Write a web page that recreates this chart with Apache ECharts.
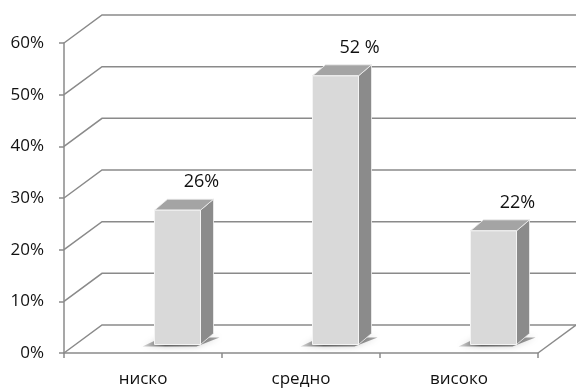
<!DOCTYPE html>
<html>
<head>
<meta charset="utf-8">
<script src="https://cdn.jsdelivr.net/npm/echarts@6/dist/echarts.min.js"></script>
<style>
  html, body { margin: 0; padding: 0; background: #ffffff; }
  #chart { width: 576px; height: 388px; }
</style>
</head>
<body>
<div id="chart"></div>
<script>
// Chart data
const categories = ['ниско', 'средно', 'високо'];
const values = [26, 52, 22];
const valueLabels = ['26%', '52 %', '22%'];
const yTicks = [0, 10, 20, 30, 40, 50, 60];

// Look
const LINE = '#8a8a8a';
const TEXT = '#111111';
const FONT = '"Open Sans", "Noto Sans", sans-serif';

// Oblique depth of the back wall / floor, and of the bar boxes
const WALL_DX = 38, WALL_DY = -28;
const BAR_SHIFT_X = 11.5, BAR_SHIFT_Y = -8.5;
const BAR_W = 46, BAR_DX = 13, BAR_DY = -11;
const LABEL_DX = 47, LABEL_DY = -28;

const chart = echarts.init(document.getElementById('chart'), null, { renderer: 'canvas' });

// One wall line per value tick: diagonal from the front axis, then along the back wall
function renderWall(params, api) {
  const v = api.value(1);
  const cs = params.coordSys;
  const y = api.coord([0, v])[1];
  const x0 = cs.x;
  const x1 = cs.x + cs.width;
  const right = api.getWidth();
  const children = [{
    type: 'polyline',
    shape: { points: [[x0, y], [x0 + WALL_DX, y + WALL_DY], [right, y + WALL_DY]] },
    style: { stroke: LINE, lineWidth: 1.5, fill: null }
  }];
  if (v === 0) {
    children.push({
      type: 'line',
      shape: { x1: x1, y1: y, x2: x1 + WALL_DX, y2: y + WALL_DY },
      style: { stroke: LINE, lineWidth: 1.5 }
    });
  }
  return { type: 'group', children: children };
}

// A shaded box per category, with its soft floor shadow and value label
function renderBar(params, api) {
  const i = api.value(0);
  const v = api.value(1);
  const base = api.coord([i, 0]);
  const top = api.coord([i, v]);
  const xl = base[0] + BAR_SHIFT_X;
  const xr = xl + BAR_W;
  const yb = base[1] + BAR_SHIFT_Y;
  const yt = top[1] + BAR_SHIFT_Y;
  return {
    type: 'group',
    children: [
      {
        type: 'polygon',
        shape: { points: [[xl - 12, yb + 2], [xr - 4, yb + 2], [xr + BAR_DX + 6, yb + BAR_DY + 4], [xl + BAR_DX - 6, yb + BAR_DY + 4]] },
        style: {
          fill: new echarts.graphic.LinearGradient(0, 0, 1, 0, [
            { offset: 0, color: 'rgba(0,0,0,0.15)' },
            { offset: 0.3, color: 'rgba(0,0,0,0.55)' },
            { offset: 1, color: 'rgba(0,0,0,0.35)' }
          ]),
          shadowBlur: 6,
          shadowColor: 'rgba(0,0,0,0.4)'
        }
      },
      {
        type: 'polygon',
        shape: { points: [[xr, yt], [xr + BAR_DX, yt + BAR_DY], [xr + BAR_DX, yb + BAR_DY], [xr, yb]] },
        style: { fill: '#8b8b8b', stroke: '#f0f0f0', lineWidth: 0.8 }
      },
      {
        type: 'polygon',
        shape: { points: [[xl, yt], [xr, yt], [xr + BAR_DX, yt + BAR_DY], [xl + BAR_DX, yt + BAR_DY]] },
        style: { fill: '#a4a4a4', stroke: '#f0f0f0', lineWidth: 0.8 }
      },
      {
        type: 'rect',
        shape: { x: xl, y: yt, width: BAR_W, height: yb - yt },
        style: { fill: '#d9d9d9', stroke: '#f4f4f4', lineWidth: 1 }
      },
      {
        type: 'text',
        style: {
          text: valueLabels[i],
          x: xl + LABEL_DX,
          y: yt + LABEL_DY,
          align: 'center',
          verticalAlign: 'middle',
          fill: TEXT,
          font: '18px ' + FONT
        }
      }
    ]
  };
}

chart.setOption({
  animation: false,
  backgroundColor: '#ffffff',
  grid: { left: 64, right: 38, top: 43, bottom: 35, containLabel: false },
  xAxis: {
    type: 'category',
    data: categories,
    boundaryGap: true,
    axisLine: { show: true, lineStyle: { color: LINE, width: 1.5 } },
    axisTick: { show: true, length: 5, lineStyle: { color: LINE, width: 1.5 } },
    axisLabel: { color: TEXT, fontSize: 17, fontFamily: FONT, margin: 18 },
    splitLine: { show: false }
  },
  yAxis: {
    type: 'value',
    min: 0,
    max: 60,
    interval: 10,
    axisLine: { show: true, lineStyle: { color: LINE, width: 1.5 } },
    axisTick: { show: true, length: 5, lineStyle: { color: LINE, width: 1.5 } },
    axisLabel: { color: TEXT, fontSize: 17, fontFamily: FONT, margin: 20, padding: [6, 0, 0, 0], formatter: '{value}%' },
    splitLine: { show: false }
  },
  series: [
    {
      type: 'custom',
      z: 1,
      renderItem: renderWall,
      data: yTicks.map(v => [0, v]),
      silent: true
    },
    {
      type: 'custom',
      z: 2,
      renderItem: renderBar,
      data: values.map((v, i) => [i, v])
    }
  ]
});
</script>
</body>
</html>
